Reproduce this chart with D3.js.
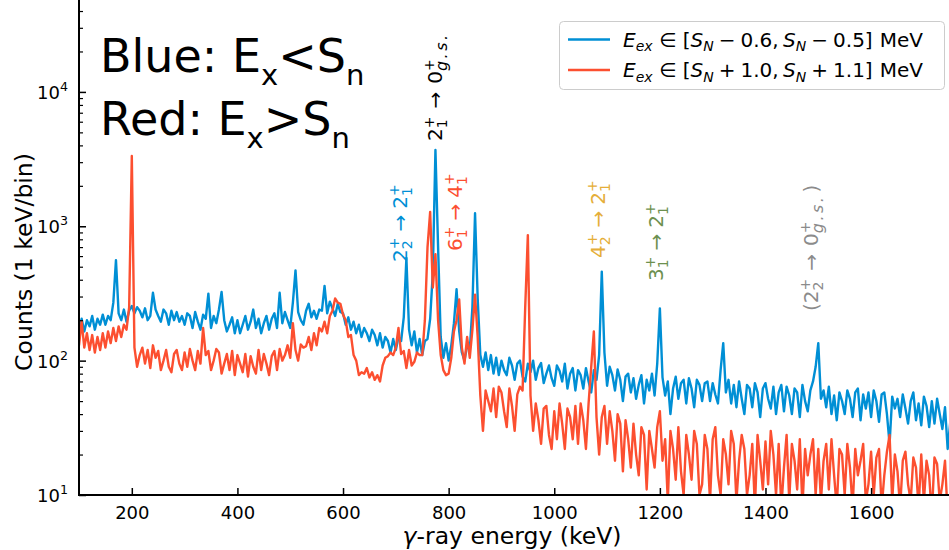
<!DOCTYPE html>
<html>
<head>
<meta charset="utf-8">
<script src="https://cdn.jsdelivr.net/npm/d3@7"></script>
<style>
  html, body { margin: 0; padding: 0; background: #fff; }
  svg { display: block; }
  text { font-family: "DejaVu Sans", sans-serif; }
</style>
</head>
<body>
<svg id="chart" width="949" height="550"></svg>
<script>
// ---------------- data (1 keV/bin spectrum, read every 5 keV) ----------------
const binStart = 100;   // keV
const binStep = 5;      // keV between read-off samples

// Blue: E_ex in [S_N-0.6, S_N-0.5] MeV
const blueCounts = [
  170,205,165,200,180,215,170,205,185,220,      // 100-145
  185,215,200,270,560,225,200,240,195,235,      // 150-195
  255,225,250,235,210,245,200,215,320,240,      // 200-245
  215,195,240,225,185,235,200,230,195,215,      // 250-295
  185,225,215,175,230,195,170,220,205,315,      // 300-345
  175,215,190,240,325,200,165,185,210,160,      // 350-395
  200,160,185,215,170,195,240,175,205,160,      // 400-445
  190,215,170,205,225,175,320,190,230,200,      // 450-495
  175,270,470,230,200,185,235,265,210,235,      // 500-545
  205,240,235,360,225,275,245,215,265,230,      // 550-595
  225,185,210,170,195,160,185,150,175,160,      // 600-645
  140,170,155,130,160,125,150,140,115,145,      // 650-695
  120,150,140,210,580,170,130,165,115,145,      // 700-745
  110,140,145,205,450,3700,700,150,105,135,     // 750-795
  100,130,190,340,165,115,100,130,120,250,      // 800-845
  1250,290,110,90,115,85,110,80,105,78,         // 850-895
  100,85,78,105,92,72,95,100,76,70,             // 900-945
  95,82,100,72,88,96,68,80,92,74,               // 950-995
  65,92,84,70,95,62,80,88,60,85,                // 1000-1045
  78,62,88,70,58,85,72,110,460,115,             // 1050-1095
  65,90,78,60,86,72,50,76,80,58,                // 1100-1145
  74,52,66,78,48,72,60,80,55,95,                // 1150-1195
  245,75,55,70,40,62,76,52,68,72,               // 1200-1245
  48,74,62,45,72,66,50,68,70,50,                // 1250-1295
  68,56,48,85,135,58,72,48,66,45,               // 1300-1345
  70,52,40,66,62,45,68,58,38,62,                // 1350-1395
  68,52,44,64,40,58,66,42,64,55,                // 1400-1445
  40,62,58,38,66,50,42,60,70,90,                // 1450-1495
  135,52,60,45,64,40,55,36,58,50,               // 1500-1545
  40,60,52,38,58,62,36,56,44,58,                // 1550-1595
  38,60,50,35,56,58,40,24,54,44,                // 1600-1645
  52,38,56,44,34,50,58,36,48,33,                // 1650-1695
  54,46,32,50,34,52,40,31,45,22,                // 1700-1745
  35                                            // 1750
];

// Red: E_ex in [S_N+1.0, S_N+1.1] MeV
const redCounts = [
  130,195,125,160,120,155,115,150,120,160,      // 100-145
  125,165,135,175,140,180,150,185,170,250,      // 150-195
  3340,125,90,110,125,95,120,88,130,105,        // 200-245
  118,85,100,120,90,82,112,120,95,85,           // 250-295
  115,90,122,100,85,118,95,175,110,118,         // 300-345
  85,100,122,115,80,95,112,85,118,78,           // 350-395
  110,95,82,112,76,108,90,80,120,85,            // 400-445
  112,95,78,108,118,85,122,100,110,130,         // 450-495
  105,190,120,100,132,125,128,150,120,160,      // 500-545
  130,175,165,195,160,215,235,290,270,265,      // 550-595
  220,200,150,155,110,100,78,82,80,88,          // 600-645
  75,82,72,78,70,92,105,108,115,110,            // 650-695
  125,175,112,118,88,120,92,98,115,110,         // 700-745
  110,200,700,1280,350,620,200,110,85,78,       // 750-795
  80,105,165,200,285,125,95,150,105,170,        // 800-845
  310,150,55,30,60,50,42,62,38,64,              // 850-895
  58,42,32,62,46,30,56,64,60,250,               // 900-945
  860,55,30,48,36,24,44,46,28,22,               // 950-995
  42,26,48,34,22,44,38,26,46,24,                // 1000-1045
  48,36,22,48,90,165,38,20,38,46,               // 1050-1095
  24,42,30,18,40,34,15,36,26,16,                // 1100-1145
  34,20,14,32,28,11,30,22,16,32,                // 1150-1195
  42,18,26,9,30,22,13,32,15,10,                 // 1200-1245
  28,20,13,30,24,10,12,28,22,9,                 // 1250-1295
  26,32,14,10,26,20,12,30,24,9,                 // 1300-1345
  18,28,22,10,14,24,8,28,18,11,                 // 1350-1395
  25,12,30,20,10,24,8,16,28,9,                  // 1400-1445
  24,18,11,26,8,22,14,20,26,10,                 // 1450-1495
  22,9,18,24,11,26,14,8,22,20,                  // 1500-1545
  10,24,16,8,22,14,18,24,9,12,                  // 1550-1595
  21,10,19,22,8,14,21,28,9,20,                  // 1600-1645
  15,8,18,21,12,9,19,16,8,20,                   // 1650-1695
  9,18,14,7,19,17,9,12,18,7,                    // 1700-1745
  10                                            // 1750
];

const xTicks = [200, 400, 600, 800, 1000, 1200, 1400, 1600];
const yDecades = [1, 2, 3, 4];   // 10^1 .. 10^4
const xDomain = [100, 1750];
const yDomain = [10, 50000];

const colors = { blue: "#008fd5", red: "#fc4f30", yellow: "#e5ae38", green: "#6d904f", grey: "#8b8b8b", black: "#000" };

// ---------------- scales ----------------
const svg = d3.select("#chart");
const padL = 79, padB = 495, padR = 950.3, padT = -2;
const x = d3.scaleLinear().domain(xDomain).range([padL, padR]);
const y = d3.scaleLog().domain(yDomain).range([padB, padT]);

svg.append("defs").append("clipPath").attr("id", "plotclip")
  .append("rect").attr("x", padL).attr("y", -20).attr("width", 1000).attr("height", padB + 20);

const line = d3.line()
  .x((d, i) => x(binStart + i * binStep))
  .y(d => y(Math.max(d, 1)))
  .curve(d3.curveLinear);

const plot = svg.append("g").attr("clip-path", "url(#plotclip)");
[[blueCounts, colors.blue], [redCounts, colors.red]].forEach(([data, c]) => {
  plot.append("path").datum(data).attr("d", line)
    .attr("fill", "none").attr("stroke", c).attr("stroke-width", 2.4)
    .attr("stroke-linejoin", "round");
});

// ---------------- axes ----------------
const xAxis = d3.axisBottom(x).tickValues(xTicks).tickSize(-7).tickPadding(11).tickFormat(d3.format("d"));
const gx = svg.append("g").attr("transform", `translate(0,${padB})`).call(xAxis);
gx.select(".domain").remove();
gx.selectAll(".tick line").attr("stroke", "#000").attr("stroke-width", 1.5);
gx.selectAll(".tick text").attr("font-size", 18).attr("fill", "#000")
  .attr("font-family", "DejaVu Sans").attr("dy", "0.72em");

// y axis: major + minor ticks (inward)
const minorVals = [];
yDecades.concat([0]).forEach(k => { for (let m = 2; m <= 9; m++) { const v = m * Math.pow(10, k); if (v > yDomain[0] && v < yDomain[1]) minorVals.push(v); } });
const yAxisMinor = d3.axisLeft(y).tickValues(minorVals).tickSize(-4).tickFormat("");
const gym = svg.append("g").attr("transform", `translate(${padL},0)`).call(yAxisMinor);
gym.select(".domain").remove();
gym.selectAll(".tick line").attr("stroke", "#000").attr("stroke-width", 1.2);

const majorVals = yDecades.map(k => Math.pow(10, k));
const yAxisMajor = d3.axisLeft(y).tickValues(majorVals).tickSize(-7).tickFormat("");
const gy = svg.append("g").attr("transform", `translate(${padL},0)`).call(yAxisMajor);
gy.select(".domain").remove();
gy.selectAll(".tick line").attr("stroke", "#000").attr("stroke-width", 1.5);
gy.selectAll(".tick").each(function(d) {
  const t = d3.select(this).append("text").attr("x", -11).attr("y", 6.5)
    .attr("text-anchor", "end").attr("font-size", 18).attr("fill", "#000");
  t.append("tspan").text("10");
  t.append("tspan").attr("dy", -8).attr("font-size", 12.6).text(Math.round(Math.log10(d)));
});

// spines
svg.append("line").attr("x1", padL).attr("x2", padL).attr("y1", padT).attr("y2", padB + 1)
  .attr("stroke", "#000").attr("stroke-width", 2);
svg.append("line").attr("x1", padL - 1).attr("x2", 949).attr("y1", padB).attr("y2", padB)
  .attr("stroke", "#000").attr("stroke-width", 2);

// axis labels
const xl = svg.append("text").attr("x", (padL + 949) / 2 - 2).attr("y", 544)
  .attr("text-anchor", "middle").attr("font-size", 23.5).attr("fill", "#000");
xl.append("tspan").attr("font-style", "italic").text("γ");
xl.append("tspan").text("-ray energy (keV)");

svg.append("text").attr("transform", "translate(32,262) rotate(-90)")
  .attr("text-anchor", "middle").attr("font-size", 23.5).attr("fill", "#000")
  .text("Counts (1 keV/bin)");

// ---------------- rich text helper ----------------
function rich(g, pieces, fs, color) {
  let cx = 0;
  const put = (t, px, dy, size, it, ls) => {
    const el = g.append("text").attr("x", px).attr("y", dy).attr("font-size", size)
      .attr("fill", color).attr("font-style", it ? "italic" : "normal")
      .attr("letter-spacing", ls || 0).text(t);
    return el.node().getComputedTextLength();
  };
  pieces.forEach(p => {
    if (p.gap !== undefined) { cx += p.gap * fs; return; }
    if (p.sup !== undefined) {
      const ss = p.ss || 0.7;
      const w1 = p.sup ? put(p.sup, cx, -0.42 * fs, fs * 0.7, p.supIt) : 0;
      const w2 = p.sub ? put(p.sub, cx, 0.24 * fs, fs * ss, p.subIt, p.ls) : 0;
      cx += Math.max(w1, w2);
      return;
    }
    cx += put(p.t, cx, p.dy || 0, fs * (p.s || 1), p.it);
  });
  return cx;
}

// ---------------- transition labels ----------------
const arrow = [{ gap: 0.3 }, { t: "→" }, { gap: 0.3 }];
const gs = { sup: "+", sub: "g.s.", subIt: true, ss: 0.8, ls: 2.5 };
const transitions = [
  { ex: 407, ey: 262, color: colors.blue,
    pieces: [{ t: "2" }, { sup: "+", sub: "2" }, ...arrow, { t: "2" }, { sup: "+", sub: "1" }] },
  { ex: 442, ey: 141, color: colors.black,
    pieces: [{ t: "2" }, { sup: "+", sub: "1" }, { gap: 0.1 }, ...arrow, { gap: 0.1 }, { t: "0" }, gs] },
  { ex: 462, ey: 251, color: colors.red,
    pieces: [{ t: "6" }, { sup: "+", sub: "1" }, ...arrow, { t: "4" }, { sup: "+", sub: "1" }] },
  { ex: 605, ey: 258, color: colors.yellow,
    pieces: [{ t: "4" }, { sup: "+", sub: "2" }, ...arrow, { t: "2" }, { sup: "+", sub: "1" }] },
  { ex: 663, ey: 281, color: colors.green,
    pieces: [{ t: "3" }, { sup: "+", sub: "1" }, ...arrow, { t: "2" }, { sup: "+", sub: "1" }] },
  { ex: 818, ey: 311, color: colors.grey,
    pieces: [{ t: "(" }, { t: "2" }, { sup: "+", sub: "2" }, { gap: 0.1 }, ...arrow, { gap: 0.1 }, { t: "0" }, gs, { gap: 0.1 }, { t: ")" }] }
];
transitions.forEach(tr => {
  const g = svg.append("g").attr("transform", `translate(${tr.ex},${tr.ey}) rotate(-90)`);
  rich(g, tr.pieces, 20, tr.color);
});

// ---------------- big annotation ----------------
[["Blue: E", "<S", 72], ["Red: E", ">S", 135]].forEach(([a, b, by]) => {
  const t = svg.append("text").attr("x", 100).attr("y", by)
    .attr("font-family", "Liberation Sans, Arial, sans-serif").attr("font-size", 46).attr("fill", "#000");
  t.append("tspan").text(a);
  t.append("tspan").attr("font-size", 29).attr("dy", 13).text("x");
  t.append("tspan").attr("dy", -13).text(b);
  t.append("tspan").attr("font-size", 29).attr("dy", 13).text("n");
});

// ---------------- legend ----------------
const legendEntries = [
  { color: colors.blue, a: "0.6", b: "0.5", op: "−" },
  { color: colors.red, a: "1.0", b: "1.1", op: "+" }
];
const lg = svg.append("g");
lg.append("rect").attr("x", 559.5).attr("y", 21.5).attr("width", 385).attr("height", 68)
  .attr("rx", 4).attr("fill", "#fff").attr("fill-opacity", 0.8)
  .attr("stroke", "#cccccc").attr("stroke-width", 1);
legendEntries.forEach((e, i) => {
  const ly = 39.5 + i * 30.5;
  lg.append("line").attr("x1", 568).attr("x2", 610).attr("y1", ly).attr("y2", ly)
    .attr("stroke", e.color).attr("stroke-width", 2.6);
  const g = lg.append("g").attr("transform", `translate(623,${ly + 7})`);
  rich(g, [
    { t: "E", it: true }, { sup: "", sub: "ex", subIt: true }, { gap: 0.32 }, { t: "∈" }, { gap: 0.32 },
    { t: "[" }, { t: "S", it: true }, { sup: "", sub: "N", subIt: true }, { gap: 0.25 }, { t: e.op }, { gap: 0.25 },
    { t: e.a + "," }, { gap: 0.22 }, { t: "S", it: true }, { sup: "", sub: "N", subIt: true }, { gap: 0.25 },
    { t: e.op }, { gap: 0.25 }, { t: e.b + "]" }, { gap: 0.35 }, { t: "MeV" }
  ], 20, "#000");
});
</script>
</body>
</html>
